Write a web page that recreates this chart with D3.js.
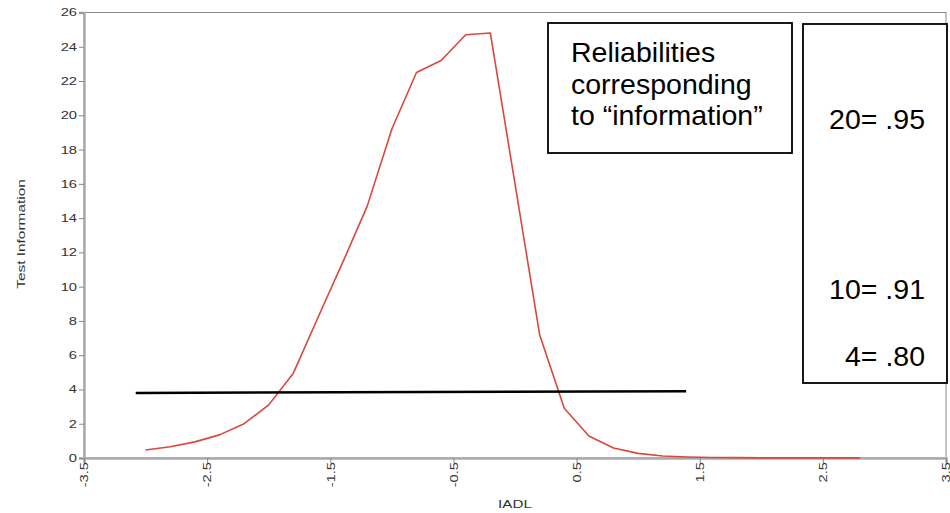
<!DOCTYPE html>
<html>
<head>
<meta charset="utf-8">
<script src="https://cdn.jsdelivr.net/npm/d3@7"></script>
<style>
  html, body { margin: 0; padding: 0; background: #fff; }
  svg { display: block; font-family: "Liberation Sans", Arial, sans-serif; }
</style>
</head>
<body>
<svg id="chart" width="950" height="513"></svg>
<script>
// ---- data ----
const theta = [-3.0, -2.8, -2.6, -2.4, -2.2, -2.0, -1.8, -1.6, -1.4, -1.2, -1.0, -0.8, -0.6, -0.4, -0.2,
               0.0, 0.2, 0.4, 0.6, 0.8, 1.0, 1.2, 1.4, 1.6, 1.8, 2.0, 2.2, 2.4, 2.6, 2.8];
const information = [0.47, 0.66, 0.94, 1.35, 2.0, 3.1, 4.95, 8.2, 11.4, 14.7, 19.2, 22.5, 23.2, 24.7, 24.8,
                     16.0, 7.2, 2.9, 1.28, 0.58, 0.27, 0.12, 0.06, 0.03, 0.02, 0.01, 0.01, 0.01, 0.01, 0.01];
const xTicks = [-3.5, -2.5, -1.5, -0.5, 0.5, 1.5, 2.5, 3.5];
const yTicks = [0, 2, 4, 6, 8, 10, 12, 14, 16, 18, 20, 22, 24, 26];
const refLineX = [-3.08, 1.39];
const refLineY = [3.8, 3.9];
const noteTitle = ["Reliabilities", "corresponding", "to \u201Cinformation\u201D"];
const noteValues = ["20= .95", "10= .91", "4= .80"];
const xLabel = "IADL";
const yLabel = "Test Information";

// ---- chart ----
const svg = d3.select("#chart");
const x = d3.scaleLinear().domain([-3.5, 3.5]).range([84, 946]);
const y = d3.scaleLinear().domain([0, 26]).range([458, 12.5]);

// widen small text along its direction (the reference uses a wide face)
function stretch(sel, k) {
  sel.each(function () {
    const w = this.getComputedTextLength();
    d3.select(this).attr("textLength", w * k).attr("lengthAdjust", "spacingAndGlyphs");
  });
}

// frame (top / right)
svg.append("rect")
  .attr("x", x(-3.5)).attr("y", y(26))
  .attr("width", x(3.5) - x(-3.5)).attr("height", y(0) - y(26))
  .attr("fill", "none").attr("stroke", "#8a8a8a").attr("stroke-width", 1);

// y axis
const yAxis = svg.append("g").attr("transform", `translate(${x(-3.5)},0)`)
  .call(d3.axisLeft(y).tickValues(yTicks).tickSize(5).tickPadding(2).tickFormat(d => String(d)));
yAxis.select(".domain").attr("stroke", "#aaa").attr("stroke-width", 2.5);
yAxis.selectAll(".tick line").attr("stroke", "#888");
yAxis.selectAll(".tick text").attr("font-size", 10.8).attr("fill", "#333")
  .attr("font-family", "Liberation Sans, Arial, sans-serif")
  .call(stretch, 1.36);

// x axis
const xAxis = svg.append("g").attr("transform", `translate(0,${y(0)})`)
  .call(d3.axisBottom(x).tickValues(xTicks).tickSize(5).tickFormat(d => d.toFixed(1)));
xAxis.select(".domain").attr("stroke", "#aaa").attr("stroke-width", 2.5);
xAxis.selectAll(".tick line").attr("stroke", "#888");
xAxis.selectAll(".tick text")
  .attr("font-size", 10.8).attr("fill", "#333")
  .attr("font-family", "Liberation Sans, Arial, sans-serif")
  .attr("text-anchor", "end")
  .attr("transform", "rotate(-90)")
  .attr("x", -4).attr("y", 0).attr("dy", "0.35em")
  .call(stretch, 1.36);

// axis titles
svg.append("text").attr("x", 515).attr("y", 508).attr("text-anchor", "middle")
  .attr("font-size", 11).attr("fill", "#333").text(xLabel).call(stretch, 1.38);
svg.append("text").attr("transform", `translate(25,${234}) rotate(-90)`).attr("text-anchor", "middle")
  .attr("font-size", 11).attr("fill", "#333").text(yLabel).call(stretch, 1.4);

// information curve
const pts = theta.map((t, i) => [t, information[i]]);
svg.append("path").datum(pts)
  .attr("fill", "none").attr("stroke", "#d9473f").attr("stroke-width", 1.6)
  .attr("stroke-linejoin", "round")
  .attr("d", d3.line().x(d => x(d[0])).y(d => y(d[1])));

// reference line
svg.append("line")
  .attr("x1", x(refLineX[0])).attr("y1", y(refLineY[0]))
  .attr("x2", x(refLineX[1])).attr("y2", y(refLineY[1]))
  .attr("stroke", "#000").attr("stroke-width", 2.5);

// note box 1
const b1 = {x0: 548, y0: 23, x1: 792, y1: 153};
svg.append("rect").attr("x", b1.x0).attr("y", b1.y0).attr("width", b1.x1 - b1.x0).attr("height", b1.y1 - b1.y0)
  .attr("fill", "#fff").attr("stroke", "#000").attr("stroke-width", 1.8);
svg.append("g").selectAll("text").data(noteTitle).join("text")
  .attr("x", 571).attr("y", (d, i) => 62 + i * 31.5)
  .attr("font-size", 28.5).attr("fill", "#000").text(d => d);

// note box 2
const b2 = {x0: 803, y0: 24, x1: 947, y1: 383};
svg.append("rect").attr("x", b2.x0).attr("y", b2.y0).attr("width", b2.x1 - b2.x0).attr("height", b2.y1 - b2.y0)
  .attr("fill", "#fff").attr("stroke", "#000").attr("stroke-width", 1.8);
const valBaselines = [129, 299, 366];
svg.append("g").selectAll("text").data(noteValues).join("text")
  .attr("x", 925).attr("y", (d, i) => valBaselines[i]).attr("text-anchor", "end")
  .attr("font-size", 28.5).attr("fill", "#000").text(d => d);
</script>
</body>
</html>
